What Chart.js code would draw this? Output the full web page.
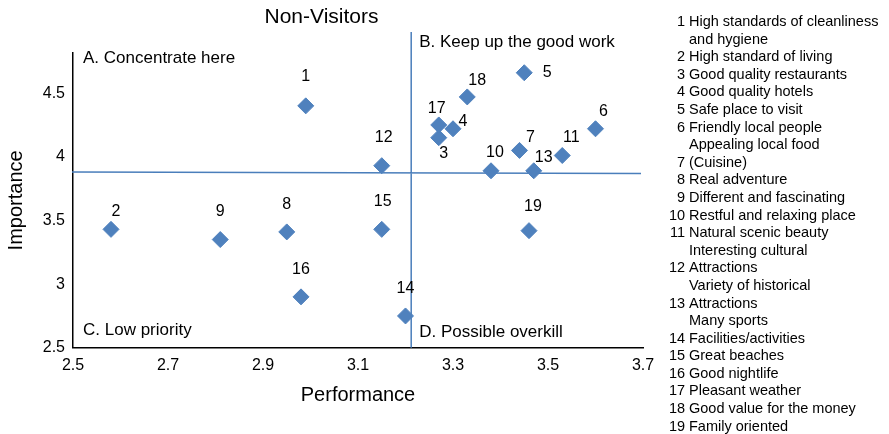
<!DOCTYPE html>
<html>
  <head>
    <meta charset="UTF-8">
    <script src="https://cdn.jsdelivr.net/npm/chart.js@4.4.1/dist/chart.umd.min.js"></script>
    <title>Non-Visitors</title>
    <style>
      body { margin: 0; background: #fff; }
      #wrap { position: relative; width: 889px; height: 434px; }
      #legend { position: absolute; left: 669px; top: 13px; font: 14.5px 'Liberation Sans', Arial, sans-serif; color: #000; line-height: 17.6px; white-space: nowrap; }
      #legend .n { display: inline-block; width: 16px; text-align: right; margin-right: 4px; }
    </style>
  </head>
  <body>
    <div id="wrap">
      <canvas id="myChart" width="889" height="434"></canvas>
      <div id="legend"></div>
    </div>
    <script type="text/javascript">
      // attribute numbers, performance (x) and importance (y)
      const ids = ['1','2','3','4','5','6','7','8','9','10','11','12','13','14','15','16','17','18','19']
      const performance = [2.99, 2.58, 3.27, 3.30, 3.45, 3.60, 3.44, 2.95, 2.81, 3.38, 3.53, 3.15, 3.47, 3.20, 3.15, 2.98, 3.27, 3.33, 3.46]
      const importance = [4.40, 3.43, 4.15, 4.22, 4.66, 4.22, 4.05, 3.41, 3.35, 3.89, 4.01, 3.93, 3.89, 2.75, 3.43, 2.90, 4.25, 4.47, 3.42]

      // quadrant dividers
      const perfMean = 3.212
      const impMeanLeft = 3.881
      const impMeanRight = 3.868

      const xTicks = [2.5, 2.7, 2.9, 3.1, 3.3, 3.5, 3.7]
      const yTicks = [2.5, 3, 3.5, 4, 4.5]

      const quadrantNames = ['A. Concentrate here', 'B. Keep up the good work', 'C. Low priority', 'D. Possible overkill']

      const legendLines = [
        ['1', 'High standards of cleanliness'], ['', 'and hygiene'],
        ['2', 'High standard of living'],
        ['3', 'Good quality restaurants'],
        ['4', 'Good quality hotels'],
        ['5', 'Safe place to visit'],
        ['6', 'Friendly local people'], ['', 'Appealing local food'],
        ['7', '(Cuisine)'],
        ['8', 'Real adventure'],
        ['9', 'Different and fascinating'],
        ['10', 'Restful and relaxing place'],
        ['11', 'Natural scenic beauty'], ['', 'Interesting cultural'],
        ['12', 'Attractions'], ['', 'Variety of historical'],
        ['13', 'Attractions'], ['', 'Many sports'],
        ['14', 'Facilities/activities'],
        ['15', 'Great beaches'],
        ['16', 'Good nightlife'],
        ['17', 'Pleasant weather'],
        ['18', 'Good value for the money'],
        ['19', 'Family oriented']
      ]

      // where each number label sits relative to its marker (px)
      const labelOffsets = [[0,-29],[5,-18],[5,16],[10,-7],[23,0],[8,-17],[11,-13],[0,-27],[0,-28],[4,-18],
                            [9,-18],[2,-28],[10,-13],[0,-27],[1,-28],[0,-27],[-2,-16],[10,-16],[4,-24]]

      const blue = '#4F81BD'
      const lineBlue = '#4A7EBB'

      Chart.defaults.font.family = "'Liberation Sans', Arial, sans-serif"
      Chart.defaults.color = '#000'

      document.getElementById('legend').innerHTML = legendLines.map(([n, t]) =>
        '<div><span class="n">' + n + '</span>' + t + '</div>').join('')

      const dividers = {
        id: 'dividers',
        beforeDatasetsDraw(chart) {
          const { ctx, chartArea, scales } = chart
          const x = scales.x.getPixelForValue(perfMean)
          ctx.save()
          ctx.strokeStyle = lineBlue
          ctx.lineWidth = 1.5
          ctx.beginPath()
          ctx.moveTo(x, chartArea.top - 21)
          ctx.lineTo(x, chartArea.bottom)
          ctx.moveTo(chartArea.left - 1, scales.y.getPixelForValue(impMeanLeft))
          ctx.lineTo(chartArea.right - 2, scales.y.getPixelForValue(impMeanRight))
          ctx.stroke()
          ctx.restore()
        },
        afterDatasetsDraw(chart) {
          const { ctx, chartArea, scales } = chart
          const x = scales.x.getPixelForValue(perfMean)
          ctx.save()
          ctx.fillStyle = '#000'
          ctx.textBaseline = 'middle'
          ctx.textAlign = 'left'
          ctx.font = "17px 'Liberation Sans', Arial, sans-serif"
          ctx.fillText(quadrantNames[0], chartArea.left + 10, chartArea.top + 5)
          ctx.fillText(quadrantNames[1], x + 8, chartArea.top - 11)
          ctx.fillText(quadrantNames[2], chartArea.left + 10, chartArea.bottom - 17)
          ctx.fillText(quadrantNames[3], x + 8, chartArea.bottom - 15)

          ctx.textAlign = 'center'
          ctx.font = "16px 'Liberation Sans', Arial, sans-serif"
          chart.getDatasetMeta(0).data.forEach((pt, i) => {
            ctx.fillText(ids[i], pt.x + labelOffsets[i][0], pt.y + labelOffsets[i][1])
          })
          ctx.restore()
        }
      }

      const ctx = document.getElementById('myChart').getContext('2d')
      const myChart = new Chart(ctx, {
        type: 'scatter',
        data: {
          datasets: [{
            label: 'Attributes',
            data: performance.map((p, i) => ({ x: p, y: importance[i] })),
            pointStyle: 'rectRot',
            pointRadius: 8,
            pointHoverRadius: 8,
            backgroundColor: blue,
            borderColor: blue,
            borderWidth: 1
          }]
        },
        options: {
          responsive: false,
          animation: false,
          layout: { padding: { left: 0, right: 246, top: 0, bottom: 27 } },
          plugins: {
            legend: { display: false },
            tooltip: { enabled: false },
            title: {
              display: true,
              text: 'Non-Visitors',
              font: { size: 21, weight: 'normal' },
              padding: { top: 4.5, bottom: 23.3 }
            }
          },
          scales: {
            x: {
              type: 'linear',
              min: xTicks[0],
              max: xTicks[xTicks.length - 1],
              afterBuildTicks: (scale) => { scale.ticks = xTicks.map(v => ({ value: v })) },
              ticks: { font: { size: 16 }, padding: 8, callback: v => v.toFixed(1) },
              grid: { display: false, drawTicks: false },
              border: { color: '#000', width: 1.5 },
              title: { display: true, text: 'Performance', font: { size: 20 }, padding: { top: 0, bottom: 0 } }
            },
            y: {
              min: 2.5,
              max: 4.815,
              afterBuildTicks: (scale) => { scale.ticks = yTicks.map(v => ({ value: v })) },
              afterFit: (scale) => { scale.width = 73 },
              ticks: { font: { size: 16 }, padding: 8, callback: v => String(v) },
              grid: { display: false, drawTicks: false },
              border: { color: '#000', width: 1.5 },
              title: { display: true, text: 'Importance', font: { size: 20 }, padding: { top: 4, bottom: 4 } }
            }
          }
        },
        plugins: [dividers]
      })
    </script>
  </body>
</html>
